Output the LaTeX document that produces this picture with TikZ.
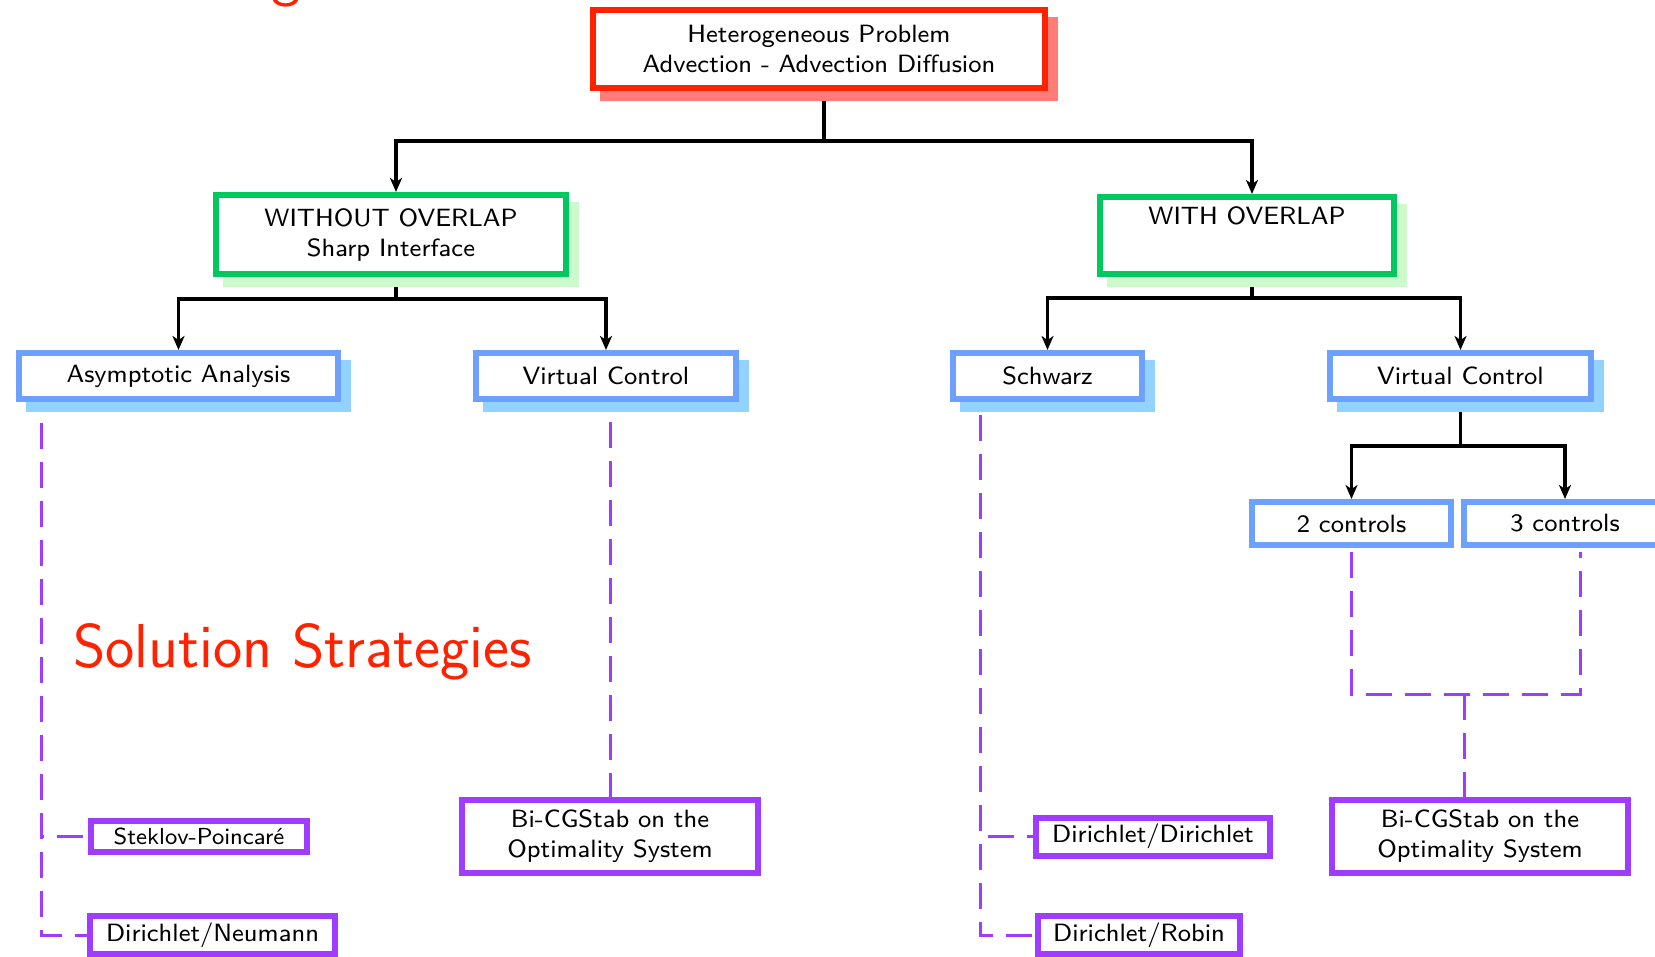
\documentclass[tikz,border=0pt]{standalone}
\usepackage{tikz}
\usetikzlibrary{arrows.meta, shadows}
\DeclareFontFamily{TU}{lmsseight}{}
\DeclareFontShape{TU}{lmsseight}{m}{n}{<-> "[lmsans8-regular]:+tlig;"}{}
\definecolor{probred}{RGB}{255,34,0}
\definecolor{probshade}{RGB}{255,125,120}
\definecolor{overgreen}{RGB}{0,200,95}
\definecolor{overshade}{RGB}{205,250,205}
\definecolor{methblue}{RGB}{110,160,255}
\definecolor{methshade}{RGB}{145,210,255}
\definecolor{solpurple}{RGB}{160,60,255}

\begin{document}
    \begin{tikzpicture}[x=0.5pt, y=-0.5pt,
        box/.style={draw, line width=3pt, fill=white, align=center, inner sep=0pt,
            font=\fontfamily{lmsseight}\fontsize{12.5}{15}\selectfont},
        redbox/.style={box, draw=probred, general shadow={shadow xshift=5pt, shadow yshift=-5pt,
            fill=probshade, draw=probshade, line width=3pt}},
        greenbox/.style={box, draw=overgreen, general shadow={shadow xshift=5pt, shadow yshift=-5pt,
            fill=overshade, draw=overshade, line width=3pt}},
        bluebox/.style={box, draw=methblue},
        blueshadow/.style={bluebox, general shadow={shadow xshift=5pt, shadow yshift=-5pt,
            fill=methshade, draw=methshade, line width=3pt}},
        purplebox/.style={box, draw=solpurple},
        link/.style={line width=1.6pt, -{Stealth[length=7pt, width=6pt, inset=2pt]}},
        dline/.style={draw=solpurple, line width=1.5pt, dash pattern=on 13pt off 6.5pt},
        bigred/.style={inner sep=0pt, text=probred, font=\sffamily\fontsize{31}{36}\selectfont}]
        \useasboundingbox (0,0) rectangle (1655,957);
        \node[bigred, anchor=base] (frag) at (286,-5) {g};
        \node[redbox, minimum width=226pt, minimum height=39pt] (prob) at (819,49)
            {Heterogeneous Problem\\Advection - Advection Diffusion};
        \node[greenbox, minimum width=175pt, minimum height=39.5pt] (without) at (391,234.5)
            {WITHOUT OVERLAP\\Sharp Interface};
        \node[greenbox, minimum width=147pt, minimum height=38.5pt] (with) at (1247,235.5)
            {WITH OVERLAP\\\strut};
        \node[blueshadow, minimum width=159.5pt, minimum height=23pt] (asym) at (178.5,376) {Asymptotic Analysis};
        \node[blueshadow, minimum width=130pt, minimum height=23pt] (vcl) at (606,376) {Virtual Control};
        \node[blueshadow, minimum width=94.5pt, minimum height=23pt] (schwarz) at (1047.5,376) {Schwarz};
        \node[blueshadow, minimum width=130.5pt, minimum height=23pt] (vcr) at (1460.5,376) {Virtual Control};
        \node[bluebox, minimum width=99.5pt, minimum height=21.5pt] (two) at (1351.5,523.5) {2 controls};
        \node[bluebox, minimum width=101pt, minimum height=21.5pt] (three) at (1565,523.5) {3 controls};
        \node[purplebox, minimum width=148pt, minimum height=36.5pt] (bicl) at (610,836.5)
            {Bi-CGStab on the\\Optimality System};
        \node[purplebox, minimum width=148pt, minimum height=36.5pt] (bicr) at (1480,836.5)
            {Bi-CGStab on the\\Optimality System};
        \node[purplebox, minimum width=108pt, minimum height=15.5pt,
            font=\fontfamily{lmsseight}\fontsize{11.6}{14}\selectfont] (steklov) at (199,836.5) {Steklov-Poincaré};
        \node[purplebox, minimum width=122.5pt, minimum height=19pt] (neumann) at (212.5,935) {Dirichlet/Neumann};
        \node[purplebox, minimum width=117pt, minimum height=19pt] (dirdir) at (1153,836.5) {Dirichlet/Dirichlet};
        \node[purplebox, minimum width=101pt, minimum height=19pt] (robin) at (1139,935) {Dirichlet/Robin};
        \node[bigred, anchor=base west] (strat) at (73,667) {Solution Strategies};
        \coordinate (join) at (1464,694);

        \draw[link] ([xshift=2.5pt, yshift=-5pt]prob.south) -- ++(0,-20pt) -| ([xshift=2.5pt]without.north);
        \draw[link] ([xshift=2.5pt, yshift=-5pt]prob.south) -- ++(0,-20pt) -| ([xshift=2.5pt]with.north);
        \draw[link] ([xshift=2.5pt, yshift=-5pt]without.south) -- ++(0,-6pt) -| (asym.north);
        \draw[link] ([xshift=2.5pt, yshift=-5pt]without.south) -- ++(0,-6pt) -| (vcl.north);
        \draw[link] ([xshift=2.5pt, yshift=-5pt]with.south) -- ++(0,-5.5pt) -| (schwarz.north);
        \draw[link] ([xshift=2.5pt, yshift=-5pt]with.south) -- ++(0,-5.5pt) -| (vcr.north);
        \draw[link] ([yshift=-5pt]vcr.south) -- ++(0,-17pt) -| (two.north);
        \draw[link] ([yshift=-5pt]vcr.south) -- ++(0,-17pt) -| (three.north);

        \draw[dline] ([xshift=12.5pt, yshift=-10.5pt]asym.south west) |- (steklov.west);
        \draw[dline] ([xshift=12.5pt, yshift=-10.5pt]asym.south west) |- (neumann.west);
        \draw[dline] ([yshift=-10pt]vcl.south -| bicl.north) -- (bicl.north);
        \draw[dline] ([xshift=15pt, yshift=-6.5pt]schwarz.south west) |- (dirdir.west);
        \draw[dline] ([xshift=15pt, yshift=-6.5pt]schwarz.south west) |- (robin.west);
        \draw[dline] ([yshift=-2pt]two.south) |- (join) -| ([xshift=7.5pt, yshift=-2pt]three.south);
        \draw[dline] (join) -- (join |- bicr.north);
    \end{tikzpicture}
\end{document}
